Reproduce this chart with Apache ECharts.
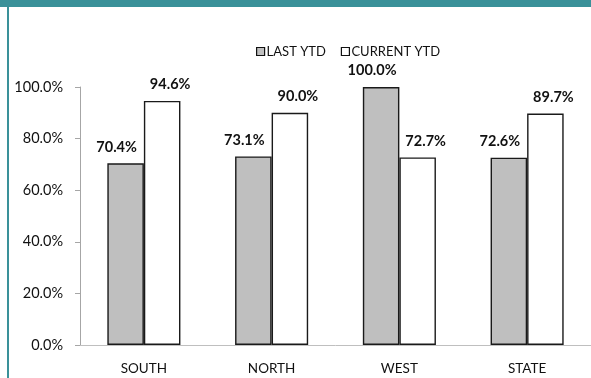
<!DOCTYPE html>
<html>
<head>
<meta charset="utf-8">
<script src="https://cdn.jsdelivr.net/npm/echarts@6/dist/echarts.min.js"></script>
<style>
  html, body { margin: 0; padding: 0; background: #fff; }
  #wrap { position: relative; width: 591px; height: 378px; overflow: hidden; }
  #chart { position: absolute; left: 0; top: 0; width: 591px; height: 378px; }
  #topbar { position: absolute; left: 0; top: 0; width: 591px; height: 7px; background: #3a9199; }
  #leftbar { position: absolute; left: 7px; top: 0; width: 2px; height: 378px; background: #3a9199; }
</style>
</head>
<body>
<div id="wrap">
  <div id="chart"></div>
  <div id="topbar"></div>
  <div id="leftbar"></div>
</div>
<script>
const categories = ['SOUTH', 'NORTH', 'WEST', 'STATE'];
const lastYTD = [70.4, 73.1, 100.0, 72.6];
const currentYTD = [94.6, 90.0, 72.7, 89.7];
const seriesNames = ['LAST YTD', 'CURRENT YTD'];
const yTicks = [0, 20, 40, 60, 80, 100];

const FONT = 'Lato';
const chart = echarts.init(document.getElementById('chart'), null, { renderer: 'canvas' });
const pct = v => Number(v).toFixed(1) + '%';

chart.setOption({
  animation: false,
  textStyle: { fontFamily: FONT },
  legend: {
    top: 40,
    left: 251,
    itemWidth: 8,
    itemHeight: 8,
    itemGap: 15,
    textStyle: { fontFamily: FONT, fontSize: 13, color: '#111', padding: [0, 0, 0, -3] },
    data: [
      { name: seriesNames[0], icon: 'rect', itemStyle: { color: '#bfbfbf', borderColor: '#111', borderWidth: 1.2 } },
      { name: seriesNames[1], icon: 'rect', itemStyle: { color: '#ffffff', borderColor: '#111', borderWidth: 1.2 } }
    ]
  },
  grid: { left: 80, top: 87, width: 518, height: 258, containLabel: false },
  xAxis: {
    type: 'category',
    data: categories,
    axisLine: { lineStyle: { color: '#bfbfbf', width: 1 } },
    axisTick: { show: false },
    axisLabel: { fontFamily: FONT, fontSize: 13.5, color: '#111', margin: 17 }
  },
  yAxis: {
    type: 'value',
    min: yTicks[0],
    max: yTicks[yTicks.length - 1],
    interval: yTicks[1] - yTicks[0],
    splitLine: { show: false },
    axisLine: { show: true, lineStyle: { color: '#a6a6a6', width: 1 } },
    axisTick: { show: true, length: 5, lineStyle: { color: '#a6a6a6' } },
    axisLabel: { fontFamily: FONT, fontSize: 14.5, color: '#111', margin: 17, formatter: v => pct(v) }
  },
  series: [
    {
      name: seriesNames[0],
      type: 'bar',
      data: lastYTD,
      barWidth: '28.6%',
      barGap: '0%',
      itemStyle: { color: '#bfbfbf', borderColor: '#1a1a1a', borderWidth: 1.4 },
      label: {
        show: true, position: 'top', distance: 9, offset: [-9, 0],
        fontFamily: FONT, fontSize: 14.5, fontWeight: 'bold', color: '#111',
        formatter: p => pct(p.value)
      }
    },
    {
      name: seriesNames[1],
      type: 'bar',
      data: currentYTD,
      barWidth: '28.6%',
      barGap: '0%',
      itemStyle: { color: '#ffffff', borderColor: '#1a1a1a', borderWidth: 1.4 },
      label: {
        show: true, position: 'top', distance: 9, offset: [8, 0],
        fontFamily: FONT, fontSize: 14.5, fontWeight: 'bold', color: '#111',
        formatter: p => pct(p.value)
      }
    }
  ]
});
</script>
</body>
</html>
